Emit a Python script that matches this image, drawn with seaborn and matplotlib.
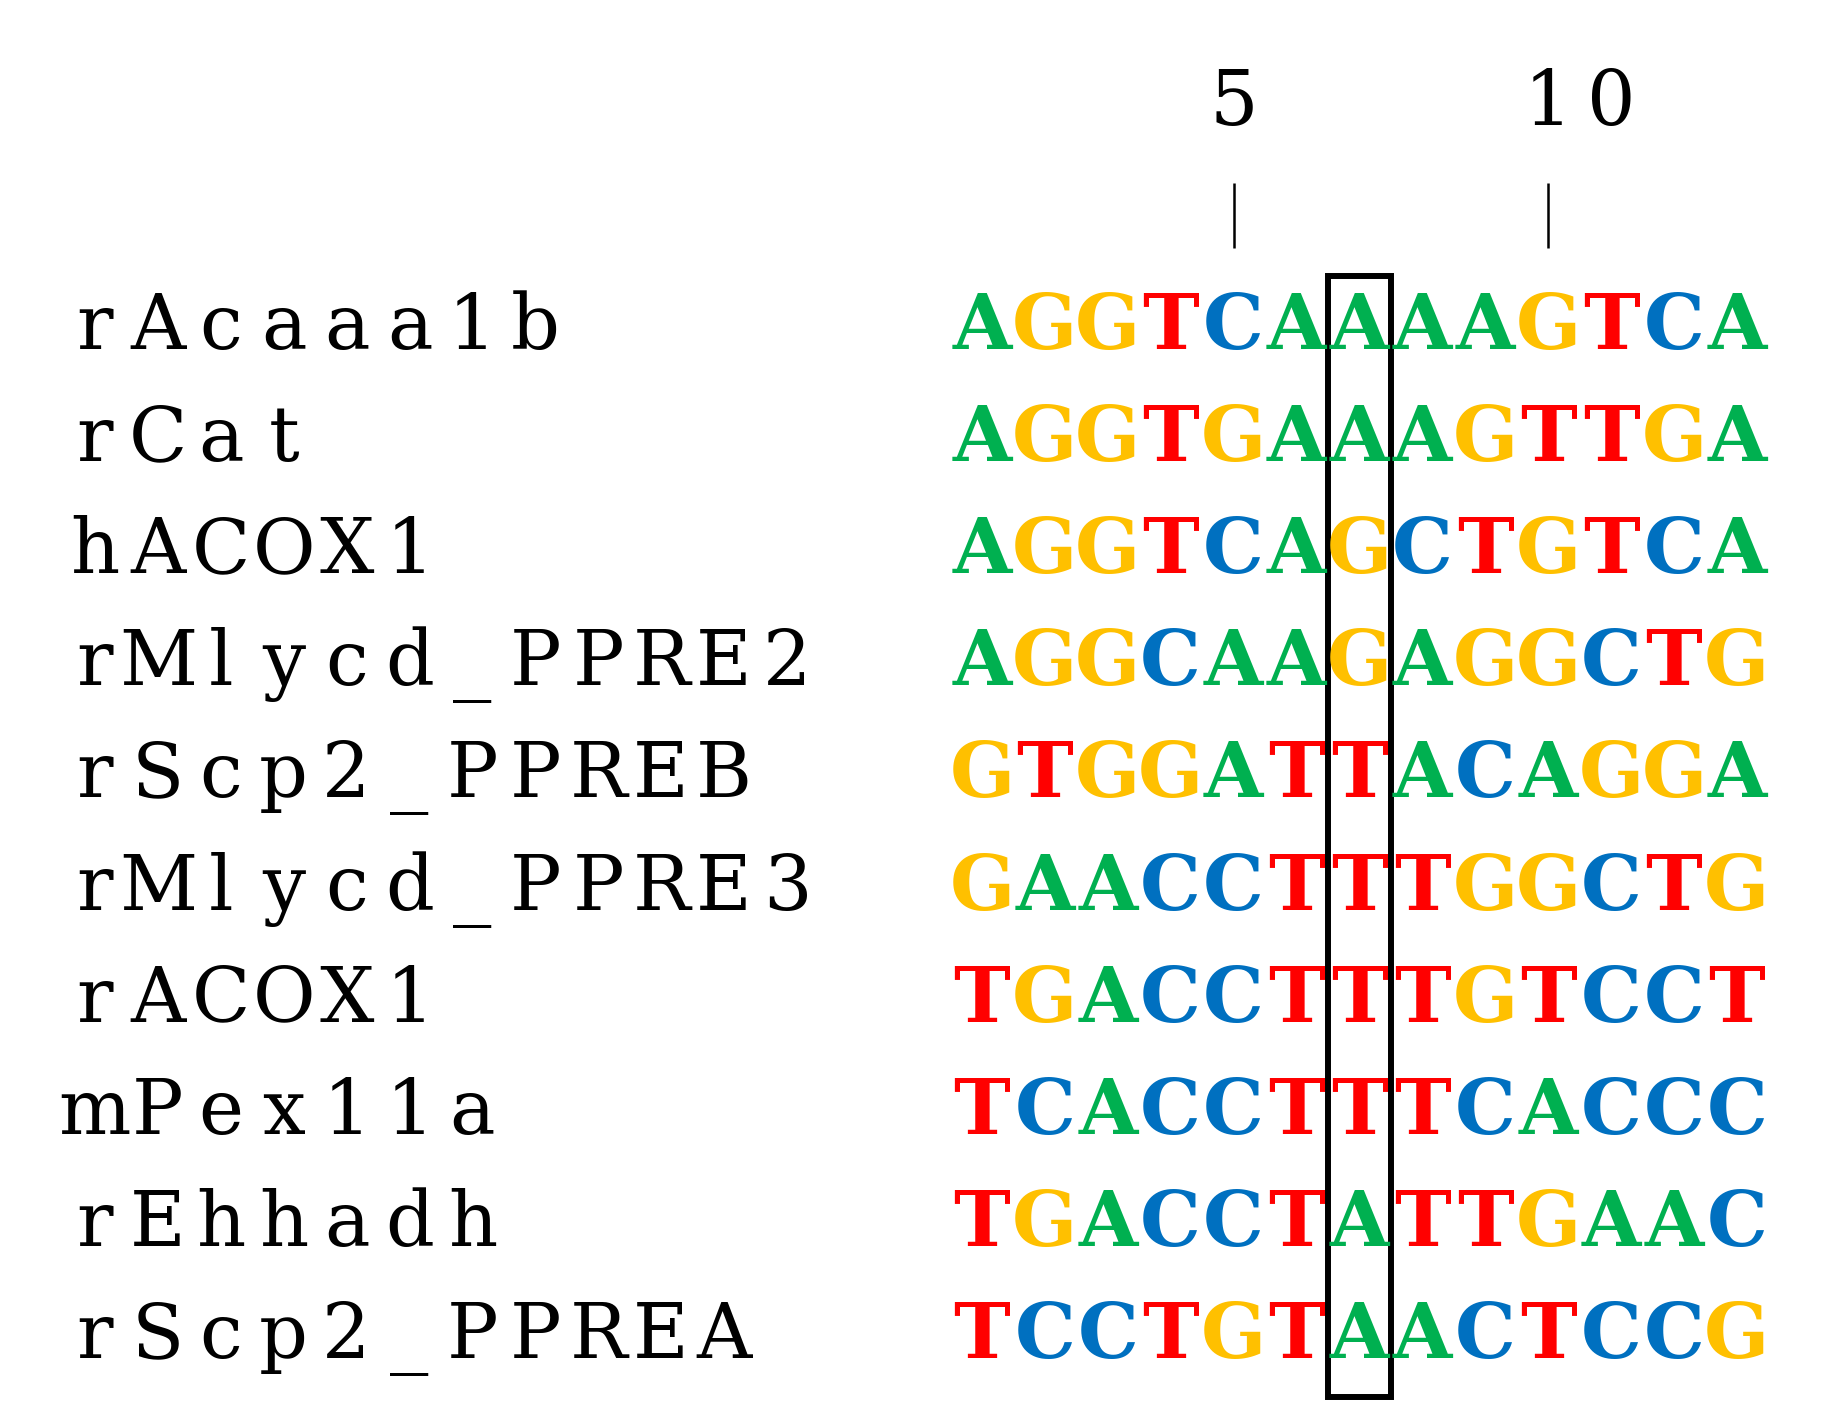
import matplotlib
matplotlib.use('Agg')
import matplotlib.pyplot as plt
import matplotlib.patches as patches
import seaborn as sns

# Dados
nomes = ['rAcaaa1b', 'rCat', 'hACOX1', 'rMlycd_PPRE2', 'rScp2_PPREB',
         'rMlycd_PPRE3', 'rACOX1', 'mPex11a', 'rEhhadh', 'rScp2_PPREA']
sequencias = ['AGGTCAAAAGTCA',
              'AGGTGAAAGTTGA',
              'AGGTCAGCTGTCA',
              'AGGCAAGAGGCTG',
              'GTGGATTACAGGA',
              'GAACCTTTGGCTG',
              'TGACCTTTGTCCT',
              'TCACCTTTCACCC',
              'TGACCTATTGAAC',
              'TCCTGTAACTCCG']
cabecalho = '    5    10   '
marcas = '    |    |    '
coluna_destaque = 6

cores = {'A': '#00B050', 'G': '#FFC000', 'T': '#FF0000', 'C': '#0070C0'}

sns.set_style('white')
plt.rcParams['font.family'] = ['DejaVu Serif', 'DejaVu Sans']

fig = plt.figure(figsize=(18.4, 14.2), dpi=100)
ax = fig.add_axes([0, 0, 1, 1])
ax.set_xlim(-15.61, 13.64)
ax.set_ylim(9.753, -2.914)
ax.axis('off')

tam = 55
desl = 0.2
inicio_nome = -14.1  # centro do primeiro caractere dos nomes

# cabeçalho com posições (cada caractere numa coluna, como fonte monoespaçada)
for i, ch in enumerate(cabecalho):
    if ch != ' ':
        ax.text(i, -2 + desl, ch, ha='center', va='baseline', fontsize=tam, color='black')
for i, ch in enumerate(marcas):
    if ch == '|':
        ax.vlines(i, -1.28, -0.70, color='black', linewidth=1.8)

# nomes e sequências
for j, (nome, seq) in enumerate(zip(nomes, sequencias)):
    for k, ch in enumerate(nome):
        ax.text(inicio_nome + k, j + desl, ch, ha='center', va='baseline',
                fontsize=tam, color='black')
    for i, base in enumerate(seq):
        ax.text(i, j + desl, base, ha='center', va='baseline', fontsize=tam,
                fontweight='bold', color=cores[base])

# caixa em volta da coluna destacada
caixa = patches.Rectangle((coluna_destaque - 0.5, -0.45), 1, len(nomes),
                          fill=False, edgecolor='black', linewidth=4.3)
ax.add_patch(caixa)

plt.savefig('out.png', dpi=100, facecolor='white')
